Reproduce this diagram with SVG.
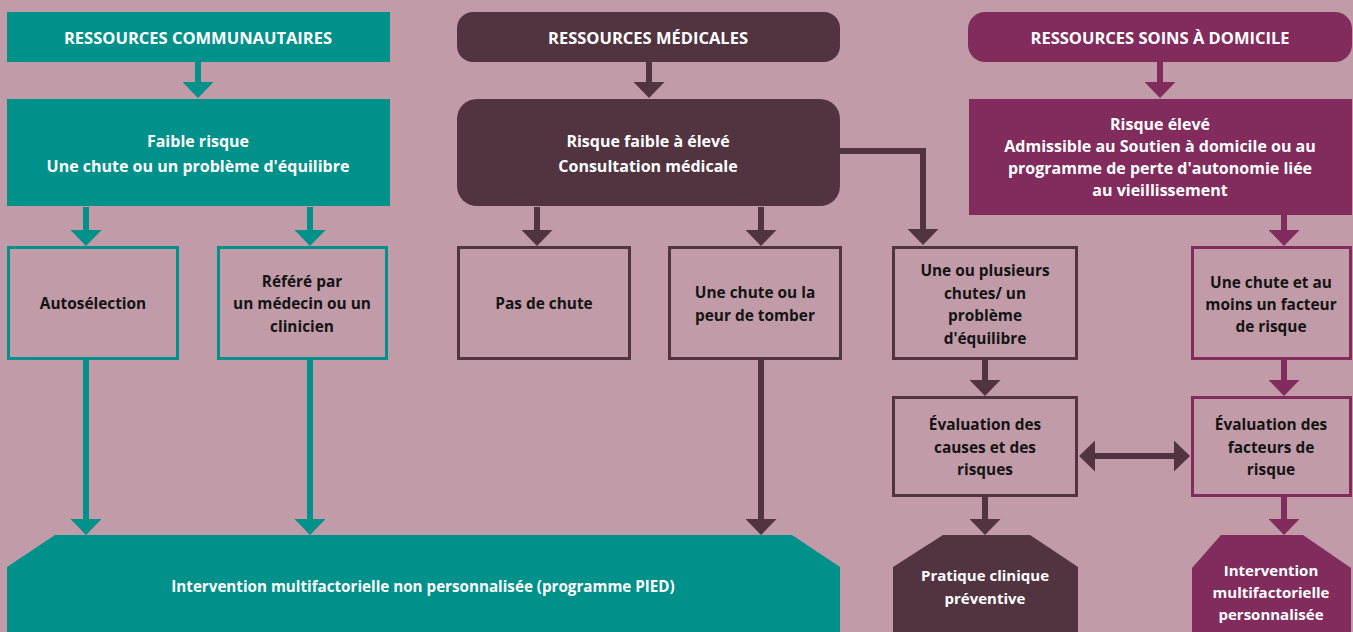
<svg xmlns="http://www.w3.org/2000/svg" width="1353" height="632" viewBox="0 0 1353 632">
<style>
text{font-family:"Open Sans","Noto Sans","DejaVu Sans",sans-serif;font-weight:bold;font-size:15.4px;text-anchor:middle}
.h{font-size:16.5px}
.b{font-size:16px}
.p{font-size:15.2px}
.o{font-size:15px}
.w{fill:#ffffff}
.k{fill:#141414}
.teal{fill:#00918b}
.plum{fill:#523441}
.mag{fill:#822c5d}
.ot{fill:none;stroke:#00918b;stroke-width:3}
.op{fill:none;stroke:#523441;stroke-width:3}
.om{fill:none;stroke:#822c5d;stroke-width:3}
.ct{stroke:#00918b;stroke-width:6;fill:none;marker-end:url(#at)}
.cp{stroke:#523441;stroke-width:6;fill:none;marker-end:url(#ap)}
.cm{stroke:#822c5d;stroke-width:6;fill:none;marker-end:url(#am)}
</style>
<defs>
<marker id="at" viewBox="0 0 16 31" refX="0" refY="15.5" markerWidth="16" markerHeight="31" markerUnits="userSpaceOnUse" orient="auto"><path d="M0,0 L16,15.5 L0,31 z" fill="#00918b"/></marker>
<marker id="ap" viewBox="0 0 16 31" refX="0" refY="15.5" markerWidth="16" markerHeight="31" markerUnits="userSpaceOnUse" orient="auto-start-reverse"><path d="M0,0 L16,15.5 L0,31 z" fill="#523441"/></marker>
<marker id="am" viewBox="0 0 16 31" refX="0" refY="15.5" markerWidth="16" markerHeight="31" markerUnits="userSpaceOnUse" orient="auto"><path d="M0,0 L16,15.5 L0,31 z" fill="#822c5d"/></marker>
</defs>
<rect width="1353" height="632" fill="#c19ba8"/>

<g id="connectors">
<path class="ct" d="M198,62 V82"/>
<path class="ct" d="M86,207 V230"/>
<path class="ct" d="M310,207 V230"/>
<path class="ct" d="M86,359 V519"/>
<path class="ct" d="M310,359 V519"/>
<path class="cp" d="M649,62 V82"/>
<path class="cp" d="M537,207 V230"/>
<path class="cp" d="M761,207 V230"/>
<path class="cp" d="M761,359 V519"/>
<path class="cp" d="M840,151 H923 V229"/>
<path class="cp" d="M985,359 V380"/>
<path class="cp" d="M985,497 V519"/>
<path class="cp" d="M1095,456 H1174" style="marker-start:url(#ap)"/>
<path class="cm" d="M1160,62 V82"/>
<path class="cm" d="M1284,215 V230"/>
<path class="cm" d="M1284,359 V380"/>
<path class="cm" d="M1284,497 V519"/>
</g>

<g id="n-comm-header">
<rect class="teal" x="7" y="12" width="383" height="50"/>
<text class="w h" x="198" y="44">RESSOURCES COMMUNAUTAIRES</text>
</g>
<g id="n-faible">
<rect class="teal" x="7" y="99" width="383" height="107"/>
<text class="w b" x="198" y="147">Faible risque</text>
<text class="w b" x="198" y="172">Une chute ou un problème d'équilibre</text>
</g>
<g id="n-auto">
<rect class="ot" x="8.5" y="247.5" width="169" height="111"/>
<text class="k" x="93" y="309">Autosélection</text>
</g>
<g id="n-refere">
<rect class="ot" x="218.5" y="247.5" width="168" height="111"/>
<text class="k" x="302" y="287">Référé par</text>
<text class="k" x="302" y="309">un médecin ou un</text>
<text class="k" x="302" y="332">clinicien</text>
</g>
<g id="n-pied">
<path class="teal" d="M7,567 L55,535 L792,535 L840,567 L840,632 L7,632 z"/>
<text class="w p" x="423" y="592">Intervention multifactorielle non personnalisée (programme PIED)</text>
</g>

<g id="n-med-header">
<rect class="plum" x="457" y="12" width="383" height="50" rx="16"/>
<text class="w h" x="648" y="44">RESSOURCES MÉDICALES</text>
</g>
<g id="n-consult">
<rect class="plum" x="457" y="99" width="383" height="107" rx="20"/>
<text class="w b" x="648" y="147">Risque faible à élevé</text>
<text class="w b" x="648" y="172">Consultation médicale</text>
</g>
<g id="n-pas">
<rect class="op" x="458.5" y="247.5" width="171" height="111"/>
<text class="k" x="544" y="309">Pas de chute</text>
</g>
<g id="n-peur">
<rect class="op" x="669.5" y="247.5" width="171" height="111"/>
<text class="k" x="755" y="298">Une chute ou la</text>
<text class="k" x="755" y="321">peur de tomber</text>
</g>
<g id="n-plusieurs">
<rect class="op" x="893.5" y="247.5" width="183" height="111"/>
<text class="k" x="985" y="276">Une ou plusieurs</text>
<text class="k" x="985" y="299">chutes/ un</text>
<text class="k" x="985" y="321">problème</text>
<text class="k" x="985" y="344">d'équilibre</text>
</g>
<g id="n-eval-causes">
<rect class="op" x="893.5" y="397.5" width="183" height="98"/>
<text class="k" x="985" y="430">Évaluation des</text>
<text class="k" x="985" y="453">causes et des</text>
<text class="k" x="985" y="475">risques</text>
</g>
<g id="n-pratique">
<path class="plum" d="M893,567 L943,535 L1030,535 L1078,567 L1078,632 L893,632 z"/>
<text class="w o" x="985" y="581">Pratique clinique</text>
<text class="w o" x="985" y="604">préventive</text>
</g>

<g id="n-dom-header">
<rect class="mag" x="968" y="12" width="384" height="50" rx="17"/>
<text class="w h" x="1160" y="44">RESSOURCES SOINS À DOMICILE</text>
</g>
<g id="n-eleve">
<rect class="mag" x="969" y="99" width="383" height="116"/>
<text class="w b" x="1160" y="130">Risque élevé</text>
<text class="w b" x="1160" y="152">Admissible au Soutien à domicile ou au</text>
<text class="w b" x="1160" y="174">programme de perte d'autonomie liée</text>
<text class="w b" x="1160" y="196">au vieillissement</text>
</g>
<g id="n-facteur">
<rect class="om" x="1192.5" y="247.5" width="158" height="111"/>
<text class="k" x="1271" y="288">Une chute et au</text>
<text class="k" x="1271" y="310">moins un facteur</text>
<text class="k" x="1271" y="332">de risque</text>
</g>
<g id="n-eval-facteurs">
<rect class="om" x="1192.5" y="397.5" width="158" height="98"/>
<text class="k" x="1271" y="430">Évaluation des</text>
<text class="k" x="1271" y="453">facteurs de</text>
<text class="k" x="1271" y="475">risque</text>
</g>
<g id="n-perso">
<path class="mag" d="M1192,568 L1221,535 L1303,535 L1351,568 L1351,632 L1192,632 z"/>
<text class="w o" x="1271" y="576">Intervention</text>
<text class="w o" x="1271" y="598">multifactorielle</text>
<text class="w o" x="1271" y="620">personnalisée</text>
</g>
</svg>
